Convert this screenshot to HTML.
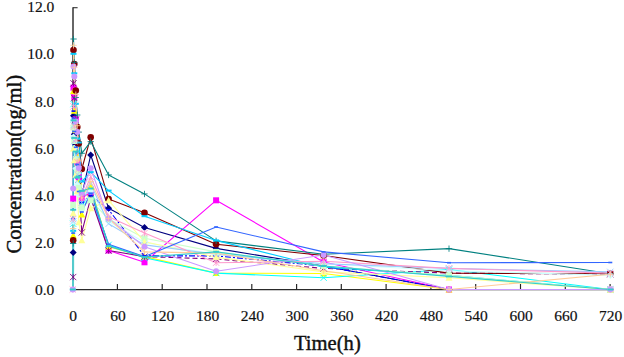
<!DOCTYPE html>
<html><head><meta charset="utf-8"><style>
html,body{margin:0;padding:0;background:#fff;}
body{width:624px;height:357px;overflow:hidden;font-family:"Liberation Serif",serif;}
svg{display:block;}
text{font-family:"Liberation Serif",serif;fill:#111;}
</style></head><body>
<svg width="624" height="357" viewBox="0 0 624 357">
<rect width="624" height="357" fill="#fff"/>

<path d="M73 7.2V290.1" fill="none" stroke="#333" stroke-width="1.5"/><path d="M73 7.7H77.6" stroke="#333" stroke-width="1.1"/><path d="M72.3 289.6H610.8" fill="none" stroke="#2a2a2a" stroke-width="1.05"/>
<path d="M117.4 289.5V284.0" stroke="#222" stroke-width="1.15"/>
<path d="M162.2 289.5V284.0" stroke="#222" stroke-width="1.15"/>
<path d="M207.0 289.5V284.0" stroke="#222" stroke-width="1.15"/>
<path d="M251.8 289.5V284.0" stroke="#222" stroke-width="1.15"/>
<path d="M296.6 289.5V284.0" stroke="#222" stroke-width="1.15"/>
<path d="M341.3 289.5V284.0" stroke="#222" stroke-width="1.15"/>
<path d="M386.1 289.5V284.0" stroke="#222" stroke-width="1.15"/>
<path d="M430.9 289.5V284.0" stroke="#222" stroke-width="1.15"/>
<path d="M475.7 289.5V284.0" stroke="#222" stroke-width="1.15"/>
<path d="M520.5 289.5V284.0" stroke="#222" stroke-width="1.15"/>
<path d="M565.3 289.5V284.0" stroke="#222" stroke-width="1.15"/>
<path d="M610.1 289.5V284.0" stroke="#222" stroke-width="1.15"/>
<path d="M72.8 289.5 L73.2 252.4 L73.5 115.7 L74.3 134.3 L75.8 144.7 L77.3 166.4 L78.8 178.6 L81.8 195.6 L90.7 155.0 L108.6 208.3 L144.5 227.5 L216.1 248.4 L323.6 266.0 L449.0 289.5 L610.3 289.5" fill="none" stroke="#000080" stroke-width="1.1" stroke-linejoin="round"/>
<path d="M72.8 289.5 L73.2 198.6 L73.5 87.6 L74.3 96.9 L75.8 119.3 L77.3 161.9 L78.8 177.2 L81.8 197.9 L90.7 192.3 L108.6 250.5 L144.5 262.3 L216.1 200.3 L323.6 262.0 L449.0 289.5 L610.3 289.5" fill="none" stroke="#FF00FF" stroke-width="1.1" stroke-linejoin="round"/>
<path d="M72.8 289.5 L73.2 235.5 L73.5 91.1 L74.3 110.8 L75.8 129.9 L77.3 157.4 L78.8 181.6 L81.8 214.4 L90.7 187.1 L108.6 246.8 L144.5 256.6 L216.1 273.1 L323.6 273.5 L449.0 289.5 L610.3 289.5" fill="none" stroke="#FFFF00" stroke-width="1.1" stroke-linejoin="round"/>
<path d="M72.8 289.5 L73.2 223.8 L73.5 104.0 L74.3 122.5 L75.8 148.2 L77.3 165.5 L78.8 185.0 L81.8 205.0 L90.7 195.6 L108.6 244.9 L144.5 257.8 L216.1 273.1 L323.6 277.8 L449.0 269.5 L610.3 289.5" fill="none" stroke="#00FFFF" stroke-width="1.1" stroke-linejoin="round"/>
<path d="M72.8 289.5 L73.2 277.1 L73.5 83.3 L74.3 98.0 L75.8 119.8 L77.3 142.7 L78.8 185.3 L81.8 232.4 L90.7 197.9 L108.6 250.5 L144.5 256.6" fill="none" stroke="#800080" stroke-width="1.1" stroke-linejoin="round"/>
<path d="M144.5 256.6 L216.1 259.0 L323.6 268.4 L449.0 273.1 L610.3 274.2" fill="none" stroke="#800080" stroke-width="1.1" stroke-dasharray="5 3" stroke-linejoin="round"/>
<path d="M72.8 289.5 L73.2 240.2 L73.5 50.0 L74.3 64.0 L75.8 90.5 L77.3 127.0 L78.8 143.5 L81.8 169.0 L90.7 137.3 L108.6 199.1 L144.5 212.7 L216.1 244.2 L323.6 255.5 L449.0 273.1 L610.3 273.8" fill="none" stroke="#800000" stroke-width="1.1" stroke-linejoin="round"/>
<path d="M72.8 289.5 L73.2 243.5 L73.5 39.0 L74.3 62.3 L75.8 97.5 L77.3 115.0 L78.8 132.1 L81.8 153.3 L90.7 141.6 L108.6 174.9 L144.5 193.9 L216.1 240.9 L323.6 254.3 L449.0 248.6 L610.3 273.8" fill="none" stroke="#008080" stroke-width="1.1" stroke-linejoin="round"/>
<path d="M72.8 289.5 L73.2 219.1 L73.5 111.1 L74.3 128.9 L75.8 138.8 L77.3 175.4 L78.8 176.9 L81.8 202.6 L90.7 195.6 L108.6 209.7 L144.5 255.9 L216.1 255.9 L323.6 266.0 L449.0 289.5 L610.3 289.5" fill="none" stroke="#0000FF" stroke-width="1.1" stroke-dasharray="6 2 2 2" stroke-linejoin="round"/>
<path d="M72.8 289.5 L73.2 230.8 L73.5 53.8 L74.3 73.3 L75.8 103.8 L77.3 138.5 L78.8 142.5 L81.8 181.5 L90.7 172.1 L108.6 190.6 L144.5 216.2 L216.1 240.4 L323.6 267.2 L449.0 275.4 L610.3 289.5" fill="none" stroke="#00CCFF" stroke-width="1.1" stroke-linejoin="round"/>
<path d="M72.8 289.5 L73.2 221.4 L73.5 136.9 L74.3 148.3 L75.8 168.4 L77.3 184.4 L78.8 194.7 L81.8 209.7 L90.7 190.9 L108.6 221.4 L144.5 242.5 L216.1 254.3 L323.6 263.7 L449.0 270.7 L610.3 275.4" fill="none" stroke="#CCFFFF" stroke-width="1.1" stroke-linejoin="round"/>
<path d="M72.8 289.5 L73.2 205.0 L73.5 127.5 L74.3 141.0 L75.8 159.0 L77.3 171.9 L78.8 187.8 L81.8 207.3 L90.7 200.3 L108.6 219.1 L144.5 238.3 L216.1 251.9 L323.6 266.0 L449.0 275.4 L610.3 289.5" fill="none" stroke="#CCFFCC" stroke-width="1.1" stroke-linejoin="round"/>
<path d="M72.8 289.5 L73.2 213.2 L73.5 148.6 L74.3 160.2 L75.8 174.7 L77.3 191.2 L78.8 222.2 L81.8 240.2 L90.7 208.3 L108.6 200.3 L144.5 241.8 L216.1 257.1 L323.6 271.9 L449.0 277.8 L610.3 289.5" fill="none" stroke="#FFFF99" stroke-width="1.1" stroke-linejoin="round"/>
<path d="M72.8 289.5 L73.2 221.4 L73.5 125.1 L74.3 141.2 L75.8 155.1 L77.3 174.4 L78.8 179.2 L81.8 202.6 L90.7 183.8 L108.6 223.8 L144.5 244.9 L216.1 254.3 L323.6 263.7 L449.0 268.4 L610.3 271.9" fill="none" stroke="#99CCFF" stroke-width="1.1" stroke-linejoin="round"/>
<path d="M72.8 289.5 L73.2 219.1 L73.5 106.4 L74.3 126.3 L75.8 139.4 L77.3 161.9 L78.8 169.0 L81.8 197.9 L90.7 176.8 L108.6 216.7 L144.5 233.1 L216.1 262.7 L323.6 261.3 L449.0 268.4 L610.3 273.1" fill="none" stroke="#FF99CC" stroke-width="1.1" stroke-linejoin="round"/>
<path d="M72.8 289.5 L73.2 188.5 L73.5 66.4 L74.3 76.6 L75.8 121.5 L77.3 132.1 L78.8 168.0 L81.8 193.2 L90.7 168.3 L108.6 218.4 L144.5 246.8 L216.1 271.2 L323.6 255.0 L449.0 289.5 L610.3 289.5" fill="none" stroke="#CC99FF" stroke-width="1.1" stroke-linejoin="round"/>
<path d="M72.8 289.5 L73.2 228.5 L73.5 45.3 L74.3 67.3 L75.8 94.6 L77.3 125.7 L78.8 161.0 L81.8 197.9 L90.7 181.5 L108.6 218.4 L144.5 251.9 L216.1 253.1 L323.6 270.7 L449.0 289.5 L610.3 274.2" fill="none" stroke="#FFCC99" stroke-width="1.1" stroke-linejoin="round"/>
<path d="M72.8 289.5 L73.2 233.1 L73.5 118.1 L74.3 131.5 L75.8 147.3 L77.3 164.4 L78.8 191.5 L81.8 212.0 L90.7 193.2 L108.6 244.2 L144.5 256.6 L216.1 227.0 L323.6 251.9 L449.0 262.7 L610.3 262.5" fill="none" stroke="#3366FF" stroke-width="1.1" stroke-linejoin="round"/>
<path d="M72.8 289.5 L73.2 209.7 L73.5 120.4 L74.3 137.9 L75.8 151.6 L77.3 177.6 L78.8 176.5 L81.8 190.9 L90.7 188.5 L108.6 246.1 L144.5 257.1 L216.1 251.9 L323.6 266.0 L449.0 276.4 L610.3 289.5" fill="none" stroke="#33CCCC" stroke-width="1.1" stroke-linejoin="round"/>
<path d="M73.0 289.5L73.4 209.7" stroke="#55CCCC" stroke-width="2" fill="none"/>
<path d="M73.2 248.9L76.7 252.4L73.2 255.9L69.7 252.4Z" fill="#000080"/>
<path d="M73.5 112.2L77.0 115.7L73.5 119.2L70.0 115.7Z" fill="#000080"/>
<path d="M74.3 130.8L77.8 134.3L74.3 137.8L70.8 134.3Z" fill="#000080"/>
<path d="M75.8 141.2L79.3 144.7L75.8 148.2L72.3 144.7Z" fill="#000080"/>
<path d="M77.3 162.9L80.8 166.4L77.3 169.9L73.8 166.4Z" fill="#000080"/>
<path d="M78.8 175.1L82.3 178.6L78.8 182.1L75.3 178.6Z" fill="#000080"/>
<path d="M81.8 192.1L85.3 195.6L81.8 199.1L78.3 195.6Z" fill="#000080"/>
<path d="M90.7 151.5L94.2 155.0L90.7 158.5L87.2 155.0Z" fill="#000080"/>
<path d="M108.6 204.8L112.1 208.3L108.6 211.8L105.1 208.3Z" fill="#000080"/>
<path d="M144.5 224.0L148.0 227.5L144.5 231.0L141.0 227.5Z" fill="#000080"/>
<path d="M216.1 244.9L219.6 248.4L216.1 251.9L212.6 248.4Z" fill="#000080"/>
<path d="M323.6 262.5L327.1 266.0L323.6 269.5L320.1 266.0Z" fill="#000080"/>
<path d="M449.0 286.0L452.5 289.5L449.0 293.0L445.5 289.5Z" fill="#000080"/>
<path d="M610.3 286.0L613.8 289.5L610.3 293.0L606.8 289.5Z" fill="#000080"/>
<rect x="70.2" y="195.6" width="6" height="6" fill="#FF00FF"/>
<rect x="70.5" y="84.6" width="6" height="6" fill="#FF00FF"/>
<rect x="71.3" y="93.9" width="6" height="6" fill="#FF00FF"/>
<rect x="72.8" y="116.3" width="6" height="6" fill="#FF00FF"/>
<rect x="74.3" y="158.9" width="6" height="6" fill="#FF00FF"/>
<rect x="75.8" y="174.2" width="6" height="6" fill="#FF00FF"/>
<rect x="78.8" y="194.9" width="6" height="6" fill="#FF00FF"/>
<rect x="87.7" y="189.3" width="6" height="6" fill="#FF00FF"/>
<rect x="105.6" y="247.5" width="6" height="6" fill="#FF00FF"/>
<rect x="141.5" y="259.3" width="6" height="6" fill="#FF00FF"/>
<rect x="213.1" y="197.3" width="6" height="6" fill="#FF00FF"/>
<rect x="320.6" y="259.0" width="6" height="6" fill="#FF00FF"/>
<rect x="446.0" y="286.5" width="6" height="6" fill="#FF00FF"/>
<rect x="607.3" y="286.5" width="6" height="6" fill="#FF00FF"/>
<path d="M73.2 232.0L76.7 238.5L69.7 238.5Z" fill="#FFFF00"/>
<path d="M73.5 87.6L77.0 94.1L70.0 94.1Z" fill="#FFFF00"/>
<path d="M74.3 107.3L77.8 113.8L70.8 113.8Z" fill="#FFFF00"/>
<path d="M75.8 126.4L79.3 132.9L72.3 132.9Z" fill="#FFFF00"/>
<path d="M77.3 153.9L80.8 160.4L73.8 160.4Z" fill="#FFFF00"/>
<path d="M78.8 178.1L82.3 184.6L75.3 184.6Z" fill="#FFFF00"/>
<path d="M81.8 210.9L85.3 217.4L78.3 217.4Z" fill="#FFFF00"/>
<path d="M90.7 183.6L94.2 190.1L87.2 190.1Z" fill="#FFFF00"/>
<path d="M108.6 243.3L112.1 249.8L105.1 249.8Z" fill="#FFFF00"/>
<path d="M144.5 253.1L148.0 259.6L141.0 259.6Z" fill="#FFFF00"/>
<path d="M216.1 269.6L219.6 276.1L212.6 276.1Z" fill="#FFFF00"/>
<path d="M323.6 270.0L327.1 276.5L320.1 276.5Z" fill="#FFFF00"/>
<path d="M449.0 286.0L452.5 292.5L445.5 292.5Z" fill="#FFFF00"/>
<path d="M610.3 286.0L613.8 292.5L606.8 292.5Z" fill="#FFFF00"/>
<path d="M70.0 220.6L76.3 226.9M70.0 226.9L76.3 220.6" stroke="#00FFFF" stroke-width="0.85" fill="none"/>
<path d="M70.4 100.9L76.7 107.2M70.4 107.2L76.7 100.9" stroke="#00FFFF" stroke-width="0.85" fill="none"/>
<path d="M71.1 119.3L77.4 125.6M71.1 125.6L77.4 119.3" stroke="#00FFFF" stroke-width="0.85" fill="none"/>
<path d="M72.6 145.0L78.9 151.3M72.6 151.3L78.9 145.0" stroke="#00FFFF" stroke-width="0.85" fill="none"/>
<path d="M74.1 162.3L80.4 168.6M74.1 168.6L80.4 162.3" stroke="#00FFFF" stroke-width="0.85" fill="none"/>
<path d="M75.6 181.8L81.9 188.1M75.6 188.1L81.9 181.8" stroke="#00FFFF" stroke-width="0.85" fill="none"/>
<path d="M78.6 201.8L84.9 208.1M78.6 208.1L84.9 201.8" stroke="#00FFFF" stroke-width="0.85" fill="none"/>
<path d="M87.6 192.4L93.9 198.7M87.6 198.7L93.9 192.4" stroke="#00FFFF" stroke-width="0.85" fill="none"/>
<path d="M105.5 241.7L111.8 248.0M105.5 248.0L111.8 241.7" stroke="#00FFFF" stroke-width="0.85" fill="none"/>
<path d="M141.3 254.7L147.6 261.0M141.3 261.0L147.6 254.7" stroke="#00FFFF" stroke-width="0.85" fill="none"/>
<path d="M213.0 269.9L219.3 276.2M213.0 276.2L219.3 269.9" stroke="#00FFFF" stroke-width="0.85" fill="none"/>
<path d="M320.5 274.6L326.8 280.9M320.5 280.9L326.8 274.6" stroke="#00FFFF" stroke-width="0.85" fill="none"/>
<path d="M445.9 266.4L452.2 272.7M445.9 272.7L452.2 266.4" stroke="#00FFFF" stroke-width="0.85" fill="none"/>
<path d="M607.1 286.4L613.4 292.6M607.1 292.6L613.4 286.4" stroke="#00FFFF" stroke-width="0.85" fill="none"/>
<path d="M70.0 273.9L76.3 280.2M70.0 280.2L76.3 273.9M73.2 273.9L73.2 280.2" stroke="#800080" stroke-width="0.85" fill="none"/>
<path d="M70.4 80.2L76.7 86.5M70.4 86.5L76.7 80.2M73.5 80.2L73.5 86.5" stroke="#800080" stroke-width="0.85" fill="none"/>
<path d="M71.1 94.8L77.4 101.1M71.1 101.1L77.4 94.8M74.3 94.8L74.3 101.1" stroke="#800080" stroke-width="0.85" fill="none"/>
<path d="M72.6 116.6L78.9 122.9M72.6 122.9L78.9 116.6M75.8 116.6L75.8 122.9" stroke="#800080" stroke-width="0.85" fill="none"/>
<path d="M74.1 139.5L80.4 145.8M74.1 145.8L80.4 139.5M77.3 139.5L77.3 145.8" stroke="#800080" stroke-width="0.85" fill="none"/>
<path d="M75.6 182.1L81.9 188.4M75.6 188.4L81.9 182.1M78.8 182.1L78.8 188.4" stroke="#800080" stroke-width="0.85" fill="none"/>
<path d="M78.6 229.3L84.9 235.6M78.6 235.6L84.9 229.3M81.8 229.3L81.8 235.6" stroke="#800080" stroke-width="0.85" fill="none"/>
<path d="M87.6 194.8L93.9 201.1M87.6 201.1L93.9 194.8M90.7 194.8L90.7 201.1" stroke="#800080" stroke-width="0.85" fill="none"/>
<path d="M105.5 247.4L111.8 253.7M105.5 253.7L111.8 247.4M108.6 247.4L108.6 253.7" stroke="#800080" stroke-width="0.85" fill="none"/>
<path d="M141.3 253.5L147.6 259.8M141.3 259.8L147.6 253.5M144.5 253.5L144.5 259.8" stroke="#800080" stroke-width="0.85" fill="none"/>
<path d="M213.0 255.8L219.3 262.1M213.0 262.1L219.3 255.8M216.1 255.8L216.1 262.1" stroke="#800080" stroke-width="0.85" fill="none"/>
<path d="M320.5 265.2L326.8 271.5M320.5 271.5L326.8 265.2M323.6 265.2L323.6 271.5" stroke="#800080" stroke-width="0.85" fill="none"/>
<path d="M445.9 269.9L452.2 276.2M445.9 276.2L452.2 269.9M449.0 269.9L449.0 276.2" stroke="#800080" stroke-width="0.85" fill="none"/>
<path d="M607.1 271.1L613.4 277.4M607.1 277.4L613.4 271.1M610.3 271.1L610.3 277.4" stroke="#800080" stroke-width="0.85" fill="none"/>
<circle cx="73.2" cy="240.2" r="3.3" fill="#800000"/>
<circle cx="73.5" cy="50.0" r="3.3" fill="#800000"/>
<circle cx="74.3" cy="64.0" r="3.3" fill="#800000"/>
<circle cx="75.8" cy="90.5" r="3.3" fill="#800000"/>
<circle cx="77.3" cy="127.0" r="3.3" fill="#800000"/>
<circle cx="78.8" cy="143.5" r="3.3" fill="#800000"/>
<circle cx="81.8" cy="169.0" r="3.3" fill="#800000"/>
<circle cx="90.7" cy="137.3" r="3.3" fill="#800000"/>
<circle cx="108.6" cy="199.1" r="3.3" fill="#800000"/>
<circle cx="144.5" cy="212.7" r="3.3" fill="#800000"/>
<circle cx="216.1" cy="244.2" r="3.3" fill="#800000"/>
<circle cx="323.6" cy="255.5" r="3.3" fill="#800000"/>
<circle cx="449.0" cy="273.1" r="3.3" fill="#800000"/>
<circle cx="610.3" cy="273.8" r="3.3" fill="#800000"/>
<path d="M70.0 243.5L76.3 243.5M73.2 240.3L73.2 246.6" stroke="#008080" stroke-width="0.85" fill="none"/>
<path d="M70.4 39.0L76.7 39.0M73.5 35.8L73.5 42.1" stroke="#008080" stroke-width="0.85" fill="none"/>
<path d="M71.1 62.3L77.4 62.3M74.3 59.1L74.3 65.4" stroke="#008080" stroke-width="0.85" fill="none"/>
<path d="M72.6 97.5L78.9 97.5M75.8 94.3L75.8 100.6" stroke="#008080" stroke-width="0.85" fill="none"/>
<path d="M74.1 115.0L80.4 115.0M77.3 111.9L77.3 118.2" stroke="#008080" stroke-width="0.85" fill="none"/>
<path d="M75.6 132.1L81.9 132.1M78.8 128.9L78.8 135.2" stroke="#008080" stroke-width="0.85" fill="none"/>
<path d="M78.6 153.3L84.9 153.3M81.8 150.2L81.8 156.5" stroke="#008080" stroke-width="0.85" fill="none"/>
<path d="M87.6 141.6L93.9 141.6M90.7 138.4L90.7 144.7" stroke="#008080" stroke-width="0.85" fill="none"/>
<path d="M105.5 174.9L111.8 174.9M108.6 171.8L108.6 178.1" stroke="#008080" stroke-width="0.85" fill="none"/>
<path d="M141.3 193.9L147.6 193.9M144.5 190.8L144.5 197.1" stroke="#008080" stroke-width="0.85" fill="none"/>
<path d="M213.0 240.9L219.3 240.9M216.1 237.7L216.1 244.0" stroke="#008080" stroke-width="0.85" fill="none"/>
<path d="M320.5 254.3L326.8 254.3M323.6 251.1L323.6 257.4" stroke="#008080" stroke-width="0.85" fill="none"/>
<path d="M445.9 248.6L452.2 248.6M449.0 245.5L449.0 251.8" stroke="#008080" stroke-width="0.85" fill="none"/>
<path d="M607.1 273.8L613.4 273.8M610.3 270.6L610.3 276.9" stroke="#008080" stroke-width="0.85" fill="none"/>
<path d="M71.2 219.1L75.2 219.1" stroke="#0000FF" stroke-width="1.6" fill="none"/>
<path d="M71.5 111.1L75.5 111.1" stroke="#0000FF" stroke-width="1.6" fill="none"/>
<path d="M72.3 128.9L76.3 128.9" stroke="#0000FF" stroke-width="1.6" fill="none"/>
<path d="M73.8 138.8L77.8 138.8" stroke="#0000FF" stroke-width="1.6" fill="none"/>
<path d="M75.3 175.4L79.3 175.4" stroke="#0000FF" stroke-width="1.6" fill="none"/>
<path d="M76.8 176.9L80.8 176.9" stroke="#0000FF" stroke-width="1.6" fill="none"/>
<path d="M79.8 202.6L83.8 202.6" stroke="#0000FF" stroke-width="1.6" fill="none"/>
<path d="M88.7 195.6L92.7 195.6" stroke="#0000FF" stroke-width="1.6" fill="none"/>
<path d="M106.6 209.7L110.6 209.7" stroke="#0000FF" stroke-width="1.6" fill="none"/>
<path d="M142.5 255.9L146.5 255.9" stroke="#0000FF" stroke-width="1.6" fill="none"/>
<path d="M214.1 255.9L218.1 255.9" stroke="#0000FF" stroke-width="1.6" fill="none"/>
<path d="M321.6 266.0L325.6 266.0" stroke="#0000FF" stroke-width="1.6" fill="none"/>
<path d="M447.0 289.5L451.0 289.5" stroke="#0000FF" stroke-width="1.6" fill="none"/>
<path d="M608.3 289.5L612.3 289.5" stroke="#0000FF" stroke-width="1.6" fill="none"/>
<path d="M70.2 230.8L76.2 230.8" stroke="#00CCFF" stroke-width="2" fill="none"/>
<path d="M70.5 53.8L76.5 53.8" stroke="#00CCFF" stroke-width="2" fill="none"/>
<path d="M71.3 73.3L77.3 73.3" stroke="#00CCFF" stroke-width="2" fill="none"/>
<path d="M72.8 103.8L78.8 103.8" stroke="#00CCFF" stroke-width="2" fill="none"/>
<path d="M74.3 138.5L80.3 138.5" stroke="#00CCFF" stroke-width="2" fill="none"/>
<path d="M75.8 142.5L81.8 142.5" stroke="#00CCFF" stroke-width="2" fill="none"/>
<path d="M78.8 181.5L84.8 181.5" stroke="#00CCFF" stroke-width="2" fill="none"/>
<path d="M87.7 172.1L93.7 172.1" stroke="#00CCFF" stroke-width="2" fill="none"/>
<path d="M105.6 190.6L111.6 190.6" stroke="#00CCFF" stroke-width="2" fill="none"/>
<path d="M141.5 216.2L147.5 216.2" stroke="#00CCFF" stroke-width="2" fill="none"/>
<path d="M213.1 240.4L219.1 240.4" stroke="#00CCFF" stroke-width="2" fill="none"/>
<path d="M320.6 267.2L326.6 267.2" stroke="#00CCFF" stroke-width="2" fill="none"/>
<path d="M446.0 275.4L452.0 275.4" stroke="#00CCFF" stroke-width="2" fill="none"/>
<path d="M607.3 289.5L613.3 289.5" stroke="#00CCFF" stroke-width="2" fill="none"/>
<path d="M73.2 217.9L76.7 221.4L73.2 224.9L69.7 221.4Z" fill="#CCFFFF"/>
<path d="M73.5 133.4L77.0 136.9L73.5 140.4L70.0 136.9Z" fill="#CCFFFF"/>
<path d="M74.3 144.8L77.8 148.3L74.3 151.8L70.8 148.3Z" fill="#CCFFFF"/>
<path d="M75.8 164.9L79.3 168.4L75.8 171.9L72.3 168.4Z" fill="#CCFFFF"/>
<path d="M77.3 180.9L80.8 184.4L77.3 187.9L73.8 184.4Z" fill="#CCFFFF"/>
<path d="M78.8 191.2L82.3 194.7L78.8 198.2L75.3 194.7Z" fill="#CCFFFF"/>
<path d="M81.8 206.2L85.3 209.7L81.8 213.2L78.3 209.7Z" fill="#CCFFFF"/>
<path d="M90.7 187.4L94.2 190.9L90.7 194.4L87.2 190.9Z" fill="#CCFFFF"/>
<path d="M108.6 217.9L112.1 221.4L108.6 224.9L105.1 221.4Z" fill="#CCFFFF"/>
<path d="M144.5 239.0L148.0 242.5L144.5 246.0L141.0 242.5Z" fill="#CCFFFF"/>
<path d="M216.1 250.8L219.6 254.3L216.1 257.8L212.6 254.3Z" fill="#CCFFFF"/>
<path d="M323.6 260.2L327.1 263.7L323.6 267.2L320.1 263.7Z" fill="#CCFFFF"/>
<path d="M449.0 267.2L452.5 270.7L449.0 274.2L445.5 270.7Z" fill="#CCFFFF"/>
<path d="M610.3 271.9L613.8 275.4L610.3 278.9L606.8 275.4Z" fill="#CCFFFF"/>
<rect x="70.2" y="202.0" width="6" height="6" fill="#CCFFCC"/>
<rect x="70.5" y="124.5" width="6" height="6" fill="#CCFFCC"/>
<rect x="71.3" y="138.0" width="6" height="6" fill="#CCFFCC"/>
<rect x="72.8" y="156.0" width="6" height="6" fill="#CCFFCC"/>
<rect x="74.3" y="168.9" width="6" height="6" fill="#CCFFCC"/>
<rect x="75.8" y="184.8" width="6" height="6" fill="#CCFFCC"/>
<rect x="78.8" y="204.3" width="6" height="6" fill="#CCFFCC"/>
<rect x="87.7" y="197.3" width="6" height="6" fill="#CCFFCC"/>
<rect x="105.6" y="216.1" width="6" height="6" fill="#CCFFCC"/>
<rect x="141.5" y="235.3" width="6" height="6" fill="#CCFFCC"/>
<rect x="213.1" y="248.9" width="6" height="6" fill="#CCFFCC"/>
<rect x="320.6" y="263.0" width="6" height="6" fill="#CCFFCC"/>
<rect x="446.0" y="272.4" width="6" height="6" fill="#CCFFCC"/>
<rect x="607.3" y="286.5" width="6" height="6" fill="#CCFFCC"/>
<path d="M73.2 209.7L76.7 216.2L69.7 216.2Z" fill="#FFFF99"/>
<path d="M73.5 145.1L77.0 151.6L70.0 151.6Z" fill="#FFFF99"/>
<path d="M74.3 156.7L77.8 163.2L70.8 163.2Z" fill="#FFFF99"/>
<path d="M75.8 171.2L79.3 177.7L72.3 177.7Z" fill="#FFFF99"/>
<path d="M77.3 187.7L80.8 194.2L73.8 194.2Z" fill="#FFFF99"/>
<path d="M78.8 218.7L82.3 225.2L75.3 225.2Z" fill="#FFFF99"/>
<path d="M81.8 236.7L85.3 243.2L78.3 243.2Z" fill="#FFFF99"/>
<path d="M90.7 204.8L94.2 211.3L87.2 211.3Z" fill="#FFFF99"/>
<path d="M108.6 196.8L112.1 203.3L105.1 203.3Z" fill="#FFFF99"/>
<path d="M144.5 238.3L148.0 244.8L141.0 244.8Z" fill="#FFFF99"/>
<path d="M216.1 253.6L219.6 260.1L212.6 260.1Z" fill="#FFFF99"/>
<path d="M323.6 268.4L327.1 274.9L320.1 274.9Z" fill="#FFFF99"/>
<path d="M449.0 274.3L452.5 280.8L445.5 280.8Z" fill="#FFFF99"/>
<path d="M610.3 286.0L613.8 292.5L606.8 292.5Z" fill="#FFFF99"/>
<path d="M70.0 218.3L76.3 224.6M70.0 224.6L76.3 218.3" stroke="#99CCFF" stroke-width="0.85" fill="none"/>
<path d="M70.4 122.0L76.7 128.3M70.4 128.3L76.7 122.0" stroke="#99CCFF" stroke-width="0.85" fill="none"/>
<path d="M71.1 138.1L77.4 144.4M71.1 144.4L77.4 138.1" stroke="#99CCFF" stroke-width="0.85" fill="none"/>
<path d="M72.6 151.9L78.9 158.2M72.6 158.2L78.9 151.9" stroke="#99CCFF" stroke-width="0.85" fill="none"/>
<path d="M74.1 171.3L80.4 177.6M74.1 177.6L80.4 171.3" stroke="#99CCFF" stroke-width="0.85" fill="none"/>
<path d="M75.6 176.0L81.9 182.3M75.6 182.3L81.9 176.0" stroke="#99CCFF" stroke-width="0.85" fill="none"/>
<path d="M78.6 199.5L84.9 205.8M78.6 205.8L84.9 199.5" stroke="#99CCFF" stroke-width="0.85" fill="none"/>
<path d="M87.6 180.7L93.9 187.0M87.6 187.0L93.9 180.7" stroke="#99CCFF" stroke-width="0.85" fill="none"/>
<path d="M105.5 220.6L111.8 226.9M105.5 226.9L111.8 220.6" stroke="#99CCFF" stroke-width="0.85" fill="none"/>
<path d="M141.3 241.7L147.6 248.0M141.3 248.0L147.6 241.7" stroke="#99CCFF" stroke-width="0.85" fill="none"/>
<path d="M213.0 251.1L219.3 257.4M213.0 257.4L219.3 251.1" stroke="#99CCFF" stroke-width="0.85" fill="none"/>
<path d="M320.5 260.5L326.8 266.8M320.5 266.8L326.8 260.5" stroke="#99CCFF" stroke-width="0.85" fill="none"/>
<path d="M445.9 265.2L452.2 271.5M445.9 271.5L452.2 265.2" stroke="#99CCFF" stroke-width="0.85" fill="none"/>
<path d="M607.1 268.7L613.4 275.0M607.1 275.0L613.4 268.7" stroke="#99CCFF" stroke-width="0.85" fill="none"/>
<path d="M69.6 286.4L76.0 292.6M69.6 292.6L76.0 286.4M72.8 286.4L72.8 292.6" stroke="#FF99CC" stroke-width="0.85" fill="none"/>
<path d="M70.0 215.9L76.3 222.2M70.0 222.2L76.3 215.9M73.2 215.9L73.2 222.2" stroke="#FF99CC" stroke-width="0.85" fill="none"/>
<path d="M70.4 103.2L76.7 109.5M70.4 109.5L76.7 103.2M73.5 103.2L73.5 109.5" stroke="#FF99CC" stroke-width="0.85" fill="none"/>
<path d="M71.1 123.2L77.4 129.5M71.1 129.5L77.4 123.2M74.3 123.2L74.3 129.5" stroke="#FF99CC" stroke-width="0.85" fill="none"/>
<path d="M72.6 136.3L78.9 142.6M72.6 142.6L78.9 136.3M75.8 136.3L75.8 142.6" stroke="#FF99CC" stroke-width="0.85" fill="none"/>
<path d="M74.1 158.8L80.4 165.1M74.1 165.1L80.4 158.8M77.3 158.8L77.3 165.1" stroke="#FF99CC" stroke-width="0.85" fill="none"/>
<path d="M75.6 165.8L81.9 172.1M75.6 172.1L81.9 165.8M78.8 165.8L78.8 172.1" stroke="#FF99CC" stroke-width="0.85" fill="none"/>
<path d="M78.6 194.8L84.9 201.1M78.6 201.1L84.9 194.8M81.8 194.8L81.8 201.1" stroke="#FF99CC" stroke-width="0.85" fill="none"/>
<path d="M87.6 173.6L93.9 179.9M87.6 179.9L93.9 173.6M90.7 173.6L90.7 179.9" stroke="#FF99CC" stroke-width="0.85" fill="none"/>
<path d="M105.5 213.6L111.8 219.9M105.5 219.9L111.8 213.6M108.6 213.6L108.6 219.9" stroke="#FF99CC" stroke-width="0.85" fill="none"/>
<path d="M141.3 230.0L147.6 236.3M141.3 236.3L147.6 230.0M144.5 230.0L144.5 236.3" stroke="#FF99CC" stroke-width="0.85" fill="none"/>
<path d="M213.0 259.6L219.3 265.9M213.0 265.9L219.3 259.6M216.1 259.6L216.1 265.9" stroke="#FF99CC" stroke-width="0.85" fill="none"/>
<path d="M320.5 258.2L326.8 264.5M320.5 264.5L326.8 258.2M323.6 258.2L323.6 264.5" stroke="#FF99CC" stroke-width="0.85" fill="none"/>
<path d="M445.9 265.2L452.2 271.5M445.9 271.5L452.2 265.2M449.0 265.2L449.0 271.5" stroke="#FF99CC" stroke-width="0.85" fill="none"/>
<path d="M607.1 269.9L613.4 276.2M607.1 276.2L613.4 269.9M610.3 269.9L610.3 276.2" stroke="#FF99CC" stroke-width="0.85" fill="none"/>
<circle cx="72.8" cy="289.5" r="3" fill="#CC99FF"/>
<circle cx="73.2" cy="188.5" r="3" fill="#CC99FF"/>
<circle cx="73.5" cy="66.4" r="3" fill="#CC99FF"/>
<circle cx="74.3" cy="76.6" r="3" fill="#CC99FF"/>
<circle cx="75.8" cy="121.5" r="3" fill="#CC99FF"/>
<circle cx="77.3" cy="132.1" r="3" fill="#CC99FF"/>
<circle cx="78.8" cy="168.0" r="3" fill="#CC99FF"/>
<circle cx="81.8" cy="193.2" r="3" fill="#CC99FF"/>
<circle cx="90.7" cy="168.3" r="3" fill="#CC99FF"/>
<circle cx="108.6" cy="218.4" r="3" fill="#CC99FF"/>
<circle cx="144.5" cy="246.8" r="3" fill="#CC99FF"/>
<circle cx="216.1" cy="271.2" r="3" fill="#CC99FF"/>
<circle cx="323.6" cy="255.0" r="3" fill="#CC99FF"/>
<circle cx="449.0" cy="289.5" r="3" fill="#CC99FF"/>
<circle cx="610.3" cy="289.5" r="3" fill="#CC99FF"/>
<path d="M70.0 228.5L76.3 228.5M73.2 225.3L73.2 231.6" stroke="#FFCC99" stroke-width="0.85" fill="none"/>
<path d="M70.4 45.3L76.7 45.3M73.5 42.2L73.5 48.5" stroke="#FFCC99" stroke-width="0.85" fill="none"/>
<path d="M71.1 67.3L77.4 67.3M74.3 64.2L74.3 70.5" stroke="#FFCC99" stroke-width="0.85" fill="none"/>
<path d="M72.6 94.6L78.9 94.6M75.8 91.5L75.8 97.8" stroke="#FFCC99" stroke-width="0.85" fill="none"/>
<path d="M74.1 125.7L80.4 125.7M77.3 122.5L77.3 128.8" stroke="#FFCC99" stroke-width="0.85" fill="none"/>
<path d="M75.6 161.0L81.9 161.0M78.8 157.8L78.8 164.1" stroke="#FFCC99" stroke-width="0.85" fill="none"/>
<path d="M78.6 197.9L84.9 197.9M81.8 194.8L81.8 201.1" stroke="#FFCC99" stroke-width="0.85" fill="none"/>
<path d="M87.6 181.5L93.9 181.5M90.7 178.3L90.7 184.6" stroke="#FFCC99" stroke-width="0.85" fill="none"/>
<path d="M105.5 218.4L111.8 218.4M108.6 215.2L108.6 221.5" stroke="#FFCC99" stroke-width="0.85" fill="none"/>
<path d="M141.3 251.9L147.6 251.9M144.5 248.8L144.5 255.1" stroke="#FFCC99" stroke-width="0.85" fill="none"/>
<path d="M213.0 253.1L219.3 253.1M216.1 250.0L216.1 256.3" stroke="#FFCC99" stroke-width="0.85" fill="none"/>
<path d="M320.5 270.7L326.8 270.7M323.6 267.6L323.6 273.9" stroke="#FFCC99" stroke-width="0.85" fill="none"/>
<path d="M445.9 289.5L452.2 289.5M449.0 286.4L449.0 292.6" stroke="#FFCC99" stroke-width="0.85" fill="none"/>
<path d="M607.1 274.2L613.4 274.2M610.3 271.1L610.3 277.4" stroke="#FFCC99" stroke-width="0.85" fill="none"/>
<path d="M71.2 233.1L75.2 233.1" stroke="#3366FF" stroke-width="1.6" fill="none"/>
<path d="M71.5 118.1L75.5 118.1" stroke="#3366FF" stroke-width="1.6" fill="none"/>
<path d="M72.3 131.5L76.3 131.5" stroke="#3366FF" stroke-width="1.6" fill="none"/>
<path d="M73.8 147.3L77.8 147.3" stroke="#3366FF" stroke-width="1.6" fill="none"/>
<path d="M75.3 164.4L79.3 164.4" stroke="#3366FF" stroke-width="1.6" fill="none"/>
<path d="M76.8 191.5L80.8 191.5" stroke="#3366FF" stroke-width="1.6" fill="none"/>
<path d="M79.8 212.0L83.8 212.0" stroke="#3366FF" stroke-width="1.6" fill="none"/>
<path d="M88.7 193.2L92.7 193.2" stroke="#3366FF" stroke-width="1.6" fill="none"/>
<path d="M106.6 244.2L110.6 244.2" stroke="#3366FF" stroke-width="1.6" fill="none"/>
<path d="M142.5 256.6L146.5 256.6" stroke="#3366FF" stroke-width="1.6" fill="none"/>
<path d="M214.1 227.0L218.1 227.0" stroke="#3366FF" stroke-width="1.6" fill="none"/>
<path d="M321.6 251.9L325.6 251.9" stroke="#3366FF" stroke-width="1.6" fill="none"/>
<path d="M447.0 262.7L451.0 262.7" stroke="#3366FF" stroke-width="1.6" fill="none"/>
<path d="M608.3 262.5L612.3 262.5" stroke="#3366FF" stroke-width="1.6" fill="none"/>
<path d="M69.8 289.5L75.8 289.5" stroke="#33CCCC" stroke-width="2" fill="none"/>
<path d="M70.2 209.7L76.2 209.7" stroke="#33CCCC" stroke-width="2" fill="none"/>
<path d="M70.5 120.4L76.5 120.4" stroke="#33CCCC" stroke-width="2" fill="none"/>
<path d="M71.3 137.9L77.3 137.9" stroke="#33CCCC" stroke-width="2" fill="none"/>
<path d="M72.8 151.6L78.8 151.6" stroke="#33CCCC" stroke-width="2" fill="none"/>
<path d="M74.3 177.6L80.3 177.6" stroke="#33CCCC" stroke-width="2" fill="none"/>
<path d="M75.8 176.5L81.8 176.5" stroke="#33CCCC" stroke-width="2" fill="none"/>
<path d="M78.8 190.9L84.8 190.9" stroke="#33CCCC" stroke-width="2" fill="none"/>
<path d="M87.7 188.5L93.7 188.5" stroke="#33CCCC" stroke-width="2" fill="none"/>
<path d="M105.6 246.1L111.6 246.1" stroke="#33CCCC" stroke-width="2" fill="none"/>
<path d="M141.5 257.1L147.5 257.1" stroke="#33CCCC" stroke-width="2" fill="none"/>
<path d="M213.1 251.9L219.1 251.9" stroke="#33CCCC" stroke-width="2" fill="none"/>
<path d="M320.6 266.0L326.6 266.0" stroke="#33CCCC" stroke-width="2" fill="none"/>
<path d="M446.0 276.4L452.0 276.4" stroke="#33CCCC" stroke-width="2" fill="none"/>
<path d="M607.3 289.5L613.3 289.5" stroke="#33CCCC" stroke-width="2" fill="none"/>
<text x="54.3" y="295.2" font-size="15.5" text-anchor="end" stroke="#111" stroke-width="0.18">0.0</text>
<text x="54.3" y="248.0" font-size="15.5" text-anchor="end" stroke="#111" stroke-width="0.18">2.0</text>
<text x="54.3" y="200.9" font-size="15.5" text-anchor="end" stroke="#111" stroke-width="0.18">4.0</text>
<text x="54.3" y="153.7" font-size="15.5" text-anchor="end" stroke="#111" stroke-width="0.18">6.0</text>
<text x="54.3" y="106.6" font-size="15.5" text-anchor="end" stroke="#111" stroke-width="0.18">8.0</text>
<text x="54.3" y="59.4" font-size="15.5" text-anchor="end" stroke="#111" stroke-width="0.18">10.0</text>
<text x="54.3" y="12.2" font-size="15.5" text-anchor="end" stroke="#111" stroke-width="0.18">12.0</text>
<text x="73.1" y="321.2" font-size="15.5" text-anchor="middle" stroke="#111" stroke-width="0.18">0</text>
<text x="117.9" y="321.2" font-size="15.5" text-anchor="middle" stroke="#111" stroke-width="0.18">60</text>
<text x="162.7" y="321.2" font-size="15.5" text-anchor="middle" stroke="#111" stroke-width="0.18">120</text>
<text x="207.5" y="321.2" font-size="15.5" text-anchor="middle" stroke="#111" stroke-width="0.18">180</text>
<text x="252.3" y="321.2" font-size="15.5" text-anchor="middle" stroke="#111" stroke-width="0.18">240</text>
<text x="297.1" y="321.2" font-size="15.5" text-anchor="middle" stroke="#111" stroke-width="0.18">300</text>
<text x="341.8" y="321.2" font-size="15.5" text-anchor="middle" stroke="#111" stroke-width="0.18">360</text>
<text x="386.6" y="321.2" font-size="15.5" text-anchor="middle" stroke="#111" stroke-width="0.18">420</text>
<text x="431.4" y="321.2" font-size="15.5" text-anchor="middle" stroke="#111" stroke-width="0.18">480</text>
<text x="476.2" y="321.2" font-size="15.5" text-anchor="middle" stroke="#111" stroke-width="0.18">540</text>
<text x="521.0" y="321.2" font-size="15.5" text-anchor="middle" stroke="#111" stroke-width="0.18">600</text>
<text x="565.8" y="321.2" font-size="15.5" text-anchor="middle" stroke="#111" stroke-width="0.18">660</text>
<text x="610.6" y="321.2" font-size="15.5" text-anchor="middle" stroke="#111" stroke-width="0.18">720</text>
<text x="327.4" y="350" font-size="20.6" text-anchor="middle" stroke="#111" stroke-width="0.4">Time(h)</text>
<text transform="translate(21.1 164.2) rotate(-90)" font-size="20.6" text-anchor="middle" stroke="#111" stroke-width="0.45">Concentration(ng/ml)</text>
</svg></body></html>
